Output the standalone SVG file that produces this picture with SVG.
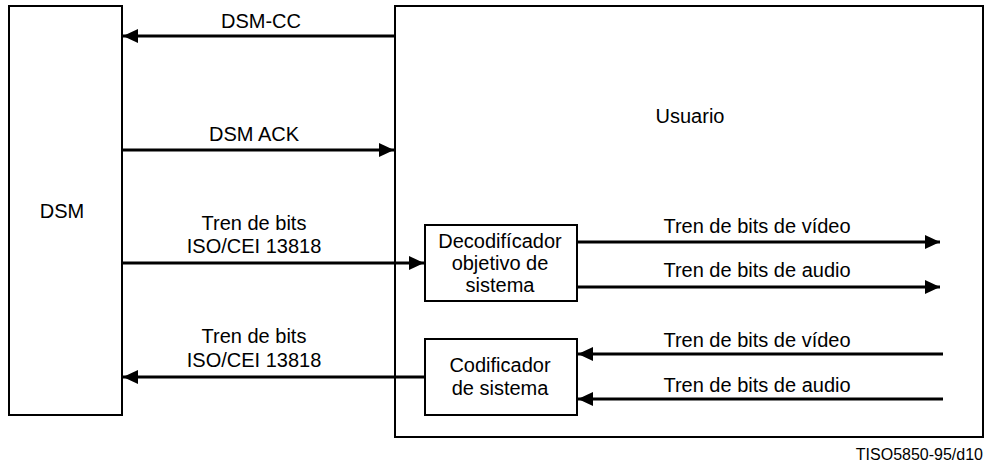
<svg xmlns="http://www.w3.org/2000/svg" width="988" height="469" viewBox="0 0 988 469">
<style>
.box{fill:#fff;stroke:#000;stroke-width:2}
.ln{stroke:#000;stroke-width:3;fill:none}
text{font-family:"Liberation Sans",Arial,sans-serif;font-size:20px;fill:#000}
.c{text-anchor:middle}
</style>
<defs>
<marker id="ah" markerUnits="userSpaceOnUse" markerWidth="16" markerHeight="14" refX="15" refY="7" orient="auto">
<path d="M0,0 L15,7 L0,14 Z" fill="#000"/>
</marker>
</defs>
<rect width="988" height="469" fill="#fff"/>
<g id="dsm">
<rect class="box" x="9" y="6" width="113" height="409"/>
<text class="c" x="62" y="218">DSM</text>
</g>
<g id="usuario">
<rect class="box" x="395" y="6" width="588" height="431"/>
<text class="c" x="690" y="123">Usuario</text>
</g>
<g id="decodificador">
<rect class="box" x="425" y="225" width="152" height="76"/>
<text class="c" x="500" y="248">Decodifícador</text>
<text class="c" x="500" y="270">objetivo de</text>
<text class="c" x="500" y="292">sistema</text>
</g>
<g id="codificador">
<rect class="box" x="425" y="339" width="152" height="76"/>
<text class="c" x="500" y="372">Codificador</text>
<text class="c" x="500" y="395">de sistema</text>
</g>
<g id="connectors">
<line class="ln" x1="395" y1="36" x2="123" y2="36" marker-end="url(#ah)"/>
<line class="ln" x1="122" y1="150" x2="394" y2="150" marker-end="url(#ah)"/>
<line class="ln" x1="122" y1="263" x2="424" y2="263" marker-end="url(#ah)"/>
<line class="ln" x1="425" y1="377" x2="123" y2="377" marker-end="url(#ah)"/>
<line class="ln" x1="577" y1="242" x2="940" y2="242" marker-end="url(#ah)"/>
<line class="ln" x1="577" y1="287" x2="940" y2="287" marker-end="url(#ah)"/>
<line class="ln" x1="943" y1="354" x2="578" y2="354" marker-end="url(#ah)"/>
<line class="ln" x1="943" y1="399" x2="578" y2="399" marker-end="url(#ah)"/>
</g>
<g id="labels">
<text class="c" x="261" y="28">DSM-CC</text>
<text class="c" x="254" y="141">DSM ACK</text>
<text class="c" x="254" y="230">Tren de bits</text>
<text class="c" x="254" y="253">ISO/CEI 13818</text>
<text class="c" x="254" y="343">Tren de bits</text>
<text class="c" x="254" y="367">ISO/CEI 13818</text>
<text class="c" x="757" y="233">Tren de bits de vídeo</text>
<text class="c" x="757" y="277">Tren de bits de audio</text>
<text class="c" x="757" y="347">Tren de bits de vídeo</text>
<text class="c" x="757" y="392">Tren de bits de audio</text>
<text x="983" y="460" text-anchor="end" style="font-size:16px">TISO5850-95/d10</text>
</g>
</svg>
